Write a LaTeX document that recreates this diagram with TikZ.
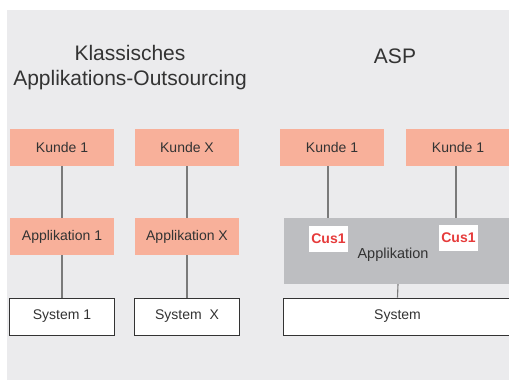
\documentclass[tikz,border=0pt]{standalone}
\usepackage{fontspec}
\setmainfont{Liberation Sans}
\definecolor{bgGrey}{HTML}{EBEBED}
\definecolor{salmon}{HTML}{F8B09A}
\definecolor{appGrey}{HTML}{BDBEC1}
\definecolor{cusRed}{HTML}{E63B3B}
\definecolor{txtGrey}{HTML}{333333}
\definecolor{lineGrey}{HTML}{7A7A7A}
\begin{document}
\begin{tikzpicture}[x=1pt,y=-1pt,
  every node/.style={inner sep=0pt,text=txtGrey},
  kunde/.style={fill=salmon,minimum width=104pt,minimum height=37pt,font=\fontsize{14}{16}\selectfont},
  sysbox/.style={fill=white,draw=txtGrey,line width=0.8pt,minimum height=37pt,font=\fontsize{14}{16}\selectfont},
  cusbox/.style={fill=white,minimum width=39pt,minimum height=26pt,text=cusRed,font=\fontsize{14}{16}\selectfont\bfseries},
  title/.style={font=\fontsize{21}{25}\selectfont,align=center},
  link/.style={draw=lineGrey,line width=1.1pt}]
\useasboundingbox[fill=white] (0,0) rectangle (509,380);
\fill[bgGrey] (7,10) rectangle (509,380);

% Klassisches Applikations-Outsourcing
\node[title] (tklass) at (130,68) {Klassisches\\Applikations-Outsourcing};
\node[kunde] (k1) at (62,147.5) {Kunde 1};
\node[kunde] (kx) at (187,147.5) {Kunde X};
\node[kunde] (a1) at (62,236.5) {Applikation 1};
\node[kunde] (ax) at (187,236.5) {Applikation X};
\node[sysbox,minimum width=105pt] (s1) at (62,316.5) {System 1};
\node[sysbox,minimum width=105pt] (sx) at (187,316.5) {System\ \ X};
\draw[link] (k1) -- (a1) -- (s1);
\draw[link] (kx) -- (ax) -- (sx);

% ASP
\node[title] (tasp) at (395,56) {ASP};
\node[kunde] (ka) at (332,147.5) {Kunde 1};
\node[kunde] (kb) at (458,147.5) {Kunde 1};
\node[fill=appGrey,minimum width=228pt,minimum height=66pt] (app) at (398,251) {};
\node[font=\fontsize{14.5}{16}\selectfont] (tapp) at (393,255) {Applikation};
\node[cusbox] (ca) at (328.5,239) {Cus1};
\node[cusbox] (cb) at (458.5,238) {Cus1};
\node[sysbox,minimum width=229pt] (sys) at (397.5,316.5) {System};
\draw[link] (ka.south -| 328,0) -- (app.north -| 328,0);
\draw[link] (kb.south -| 456,0) -- (app.north -| 456,0);
\draw[link] (app.south) -- (sys.north);
\end{tikzpicture}
\end{document}
